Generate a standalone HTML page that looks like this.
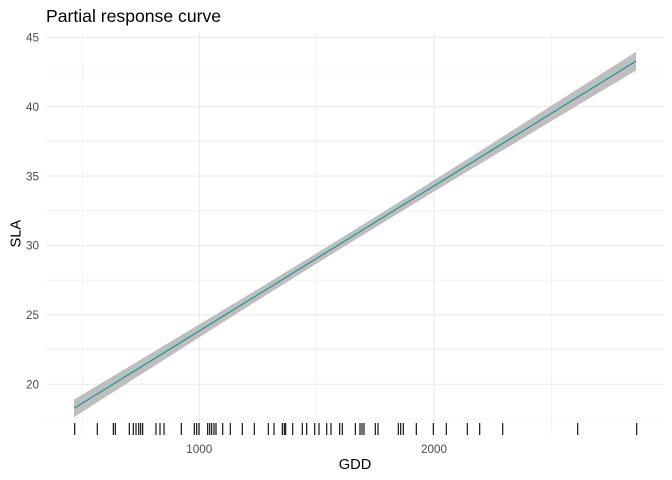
<!DOCTYPE html>
<html>
<head>
<meta charset="utf-8">
<style>
html,body{margin:0;padding:0;background:#fff;}
svg{display:block;}
text{font-family:"Liberation Sans",Arial,sans-serif;}
</style>
</head>
<body>
<svg width="672" height="480" viewBox="0 0 672 480" xmlns="http://www.w3.org/2000/svg">
<rect width="672" height="480" fill="#fff"/>
<g stroke="#EBEBEB" stroke-width="0.6" fill="none">
<line x1="46" x2="664" y1="419.0" y2="419.0"/>
<line x1="46" x2="664" y1="349.6" y2="349.6"/>
<line x1="46" x2="664" y1="280.2" y2="280.2"/>
<line x1="46" x2="664" y1="210.8" y2="210.8"/>
<line x1="46" x2="664" y1="141.4" y2="141.4"/>
<line x1="46" x2="664" y1="72.0" y2="72.0"/>
<line x1="82.2" x2="82.2" y1="32" y2="435"/>
<line x1="316.7" x2="316.7" y1="32" y2="435"/>
<line x1="551.3" x2="551.3" y1="32" y2="435"/>
</g>
<g stroke="#EBEBEB" stroke-width="1.1" fill="none">
<line x1="46" x2="664" y1="384.3" y2="384.3"/>
<line x1="46" x2="664" y1="314.9" y2="314.9"/>
<line x1="46" x2="664" y1="245.5" y2="245.5"/>
<line x1="46" x2="664" y1="176.1" y2="176.1"/>
<line x1="46" x2="664" y1="106.7" y2="106.7"/>
<line x1="46" x2="664" y1="37.3" y2="37.3"/>
<line x1="199.3" x2="199.3" y1="32" y2="435"/>
<line x1="434.0" x2="434.0" y1="32" y2="435"/>
</g>
<polygon fill="#BEBEBE" points="74,399.5 100,384.0 150,354.0 200,324.0 250,293.9 300,263.4 340,238.8 380,214.0 430,182.7 480,151.1 530,119.3 580,87.5 636,51.7 636,70.5 580,103.9 530,133.9 480,163.9 430,194.0 380,224.5 340,249.1 300,273.9 250,305.2 200,336.9 150,368.7 100,400.5 74,417.1"/>
<line x1="74" y1="408.3" x2="636" y2="61.11" stroke="#139393" stroke-width="1.1"/>
<g stroke="#000" stroke-width="1.1">
<line x1="74.7" x2="74.7" y1="423" y2="435"/>
<line x1="97.3" x2="97.3" y1="423" y2="435"/>
<line x1="113.3" x2="113.3" y1="423" y2="435"/>
<line x1="115.3" x2="115.3" y1="423" y2="435"/>
<line x1="129.3" x2="129.3" y1="423" y2="435"/>
<line x1="133.3" x2="133.3" y1="423" y2="435"/>
<line x1="136" x2="136" y1="423" y2="435"/>
<line x1="138.7" x2="138.7" y1="423" y2="435"/>
<line x1="140.7" x2="140.7" y1="423" y2="435"/>
<line x1="142.7" x2="142.7" y1="423" y2="435"/>
<line x1="156" x2="156" y1="423" y2="435"/>
<line x1="160" x2="160" y1="423" y2="435"/>
<line x1="164" x2="164" y1="423" y2="435"/>
<line x1="181.3" x2="181.3" y1="423" y2="435"/>
<line x1="194.3" x2="194.3" y1="423" y2="435"/>
<line x1="196.7" x2="196.7" y1="423" y2="435"/>
<line x1="199" x2="199" y1="423" y2="435"/>
<line x1="207.7" x2="207.7" y1="423" y2="435"/>
<line x1="209.7" x2="209.7" y1="423" y2="435"/>
<line x1="211.7" x2="211.7" y1="423" y2="435"/>
<line x1="214" x2="214" y1="423" y2="435"/>
<line x1="216" x2="216" y1="423" y2="435"/>
<line x1="222.7" x2="222.7" y1="423" y2="435"/>
<line x1="230.3" x2="230.3" y1="423" y2="435"/>
<line x1="242.3" x2="242.3" y1="423" y2="435"/>
<line x1="254.3" x2="254.3" y1="423" y2="435"/>
<line x1="268.3" x2="268.3" y1="423" y2="435"/>
<line x1="274" x2="274" y1="423" y2="435"/>
<line x1="282.3" x2="282.3" y1="423" y2="435"/>
<line x1="284.3" x2="284.3" y1="423" y2="435"/>
<line x1="285.7" x2="285.7" y1="423" y2="435"/>
<line x1="292.7" x2="292.7" y1="423" y2="435"/>
<line x1="302.3" x2="302.3" y1="423" y2="435"/>
<line x1="306.7" x2="306.7" y1="423" y2="435"/>
<line x1="314.7" x2="314.7" y1="423" y2="435"/>
<line x1="319" x2="319" y1="423" y2="435"/>
<line x1="326.7" x2="326.7" y1="423" y2="435"/>
<line x1="331" x2="331" y1="423" y2="435"/>
<line x1="339.7" x2="339.7" y1="423" y2="435"/>
<line x1="342.3" x2="342.3" y1="423" y2="435"/>
<line x1="355.3" x2="355.3" y1="423" y2="435"/>
<line x1="360" x2="360" y1="423" y2="435"/>
<line x1="362" x2="362" y1="423" y2="435"/>
<line x1="364" x2="364" y1="423" y2="435"/>
<line x1="375.3" x2="375.3" y1="423" y2="435"/>
<line x1="378" x2="378" y1="423" y2="435"/>
<line x1="398.3" x2="398.3" y1="423" y2="435"/>
<line x1="400.7" x2="400.7" y1="423" y2="435"/>
<line x1="403.3" x2="403.3" y1="423" y2="435"/>
<line x1="416.3" x2="416.3" y1="423" y2="435"/>
<line x1="433.3" x2="433.3" y1="423" y2="435"/>
<line x1="446.3" x2="446.3" y1="423" y2="435"/>
<line x1="467.3" x2="467.3" y1="423" y2="435"/>
<line x1="479.7" x2="479.7" y1="423" y2="435"/>
<line x1="502.7" x2="502.7" y1="423" y2="435"/>
<line x1="577.7" x2="577.7" y1="423" y2="435"/>
<line x1="636.7" x2="636.7" y1="423" y2="435"/>
</g>
<g fill="#4D4D4D" font-size="11.7" text-anchor="end">
<text x="39" y="388.5">20</text>
<text x="39" y="319.1">25</text>
<text x="39" y="249.7">30</text>
<text x="39" y="180.3">35</text>
<text x="39" y="110.9">40</text>
<text x="39" y="41.5">45</text>
</g>
<g fill="#4D4D4D" font-size="11.7" text-anchor="middle">
<text x="199.3" y="453">1000</text>
<text x="434.0" y="453">2000</text>
</g>
<text x="355" y="469" font-size="14.67" text-anchor="middle" fill="#000">GDD</text>
<text transform="translate(20.5,233.7) rotate(-90)" font-size="14.67" text-anchor="middle" fill="#000">SLA</text>
<text x="46" y="22" font-size="17.6" fill="#000">Partial response curve</text>
</svg>
</body>
</html>
